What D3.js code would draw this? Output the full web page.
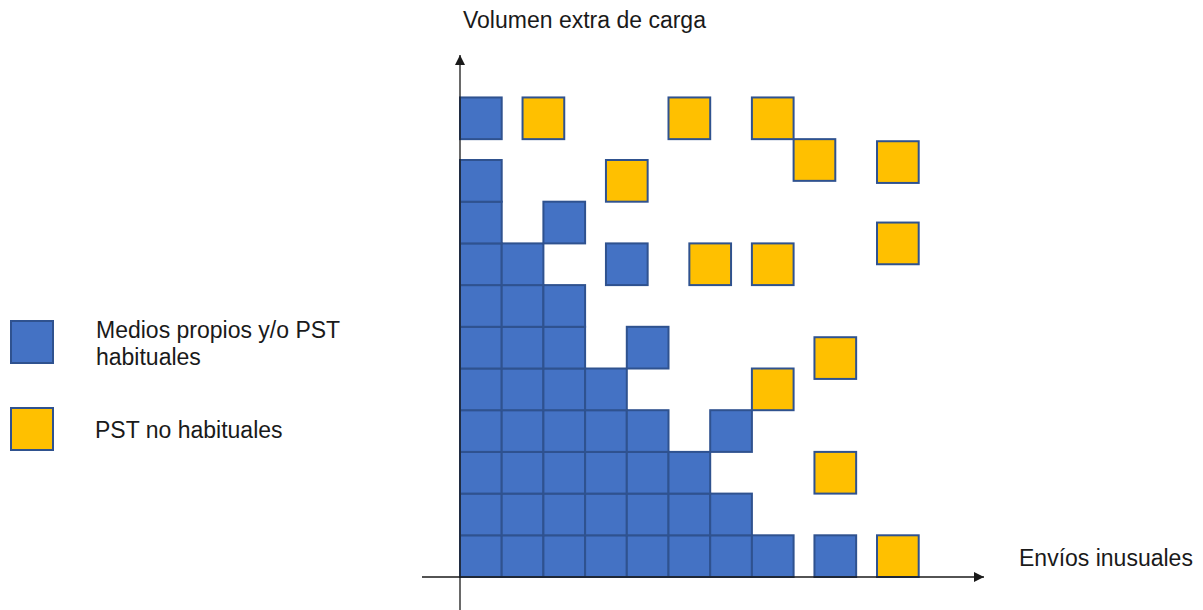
<!DOCTYPE html>
<html>
<head>
<meta charset="utf-8">
<script src="https://cdn.jsdelivr.net/npm/d3@7"></script>
<style>
  html, body { margin: 0; padding: 0; background: #fff; }
  svg { display: block; }
  text { font-family: "Liberation Sans", Arial, sans-serif; fill: #1a1a1a; }
</style>
</head>
<body>
<svg id="chart" width="1203" height="610"></svg>
<script>
// Data: square positions in grid units (x = Envíos inusuales, y = Volumen extra de carga)
const blueSquares = [
  [0,0],[1,0],[2,0],[3,0],[4,0],[5,0],[6,0],[7,0],[8.5,0],
  [0,1],[1,1],[2,1],[3,1],[4,1],[5,1],[6,1],
  [0,2],[1,2],[2,2],[3,2],[4,2],[5,2],
  [0,3],[1,3],[2,3],[3,3],[4,3],[6,3],
  [0,4],[1,4],[2,4],[3,4],
  [0,5],[1,5],[2,5],[4,5],
  [0,6],[1,6],[2,6],
  [0,7],[1,7],[3.5,7],
  [0,8],[2,8],
  [0,9],
  [0,10.5]
];
const goldSquares = [
  [10,0],[8.5,2],[7,4],[8.5,4.75],[5.5,7],[7,7],[10,7.5],
  [3.5,9],[8,9.5],[10,9.45],[1.5,10.5],[5,10.5],[7,10.5]
];
const seriesNames = ["Medios propios y/o PST", "habituales"];
const goldName = "PST no habituales";
const xTitle = "Envíos inusuales";
const yTitle = "Volumen extra de carga";

const svg = d3.select("#chart");
const unit = 41.7;
const x0 = 460, y0 = 577;
const x = d3.scaleLinear().domain([0, 12]).range([x0, x0 + 12 * unit]);
const y = d3.scaleLinear().domain([0, 12]).range([y0, y0 - 12 * unit]);

const BLUE = "#4472C4", GOLD = "#FFC000", EDGE = "#2F528F", AXIS = "#1a1a1a";
const FS = 23;

// arrow marker
svg.append("defs").append("marker")
  .attr("id", "arrow").attr("viewBox", "0 0 10 10")
  .attr("refX", 10).attr("refY", 5)
  .attr("markerWidth", 12).attr("markerHeight", 10)
  .attr("markerUnits", "userSpaceOnUse")
  .attr("orient", "auto")
  .append("path").attr("d", "M0,0 L10,5 L0,10 z").attr("fill", AXIS);

// squares
function drawSquares(data, fill) {
  svg.append("g").selectAll("rect").data(data).join("rect")
    .attr("x", d => x(d[0]))
    .attr("y", d => y(d[1] + 1))
    .attr("width", d => x(d[0] + 1) - x(d[0]))
    .attr("height", d => y(d[1]) - y(d[1] + 1))
    .attr("fill", fill)
    .attr("stroke", EDGE)
    .attr("stroke-width", 2);
}
drawSquares(blueSquares, BLUE);
drawSquares(goldSquares, GOLD);

// axes
svg.append("line")
  .attr("x1", 422).attr("y1", y(0)).attr("x2", 984).attr("y2", y(0))
  .attr("stroke", AXIS).attr("stroke-width", 1.3).attr("marker-end", "url(#arrow)");
svg.append("line")
  .attr("x1", x(0)).attr("y1", 610).attr("x2", x(0)).attr("y2", 55)
  .attr("stroke", AXIS).attr("stroke-width", 1.3).attr("marker-end", "url(#arrow)");

// axis titles
svg.append("text").attr("x", 463).attr("y", 28).attr("font-size", FS).text(yTitle);
svg.append("text").attr("x", 1019).attr("y", 566).attr("font-size", FS).text(xTitle);

// legend
const lg = svg.append("g");
lg.append("rect").attr("x", 11).attr("y", 321).attr("width", 42).attr("height", 42)
  .attr("fill", BLUE).attr("stroke", EDGE).attr("stroke-width", 2);
lg.append("text").attr("x", 96).attr("y", 338).attr("font-size", FS).text(seriesNames[0]);
lg.append("text").attr("x", 96).attr("y", 365).attr("font-size", FS).text(seriesNames[1]);
lg.append("rect").attr("x", 11).attr("y", 408).attr("width", 42).attr("height", 42)
  .attr("fill", GOLD).attr("stroke", EDGE).attr("stroke-width", 2);
lg.append("text").attr("x", 95).attr("y", 438).attr("font-size", FS).text(goldName);
</script>
</body>
</html>
